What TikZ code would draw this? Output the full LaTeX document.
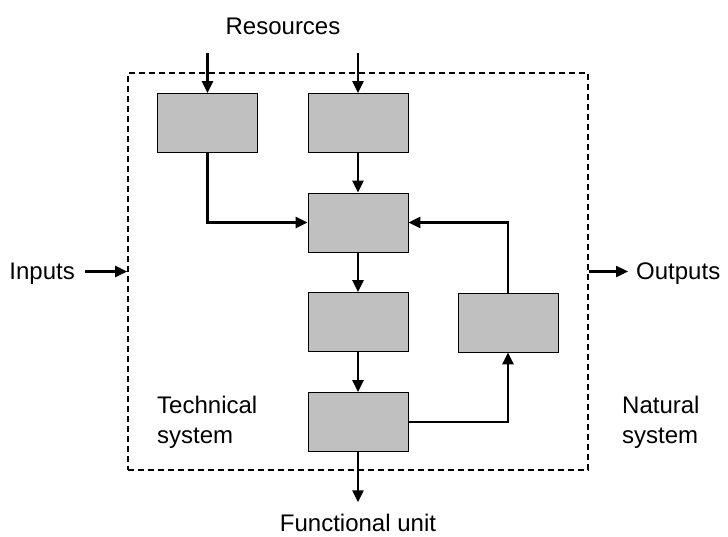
\documentclass[tikz,border=0pt]{standalone}
\usepackage{fontspec}
\setmainfont{Liberation Sans}
\usepackage{tikz}
\usetikzlibrary{arrows.meta}
\definecolor{boxgray}{RGB}{192,192,192}

\begin{document}
\begin{tikzpicture}[x=1pt,y=-1pt,
  unit/.style={draw,line width=0.9pt,fill=boxgray,minimum width=100pt,minimum height=59pt,inner sep=0pt},
  flow/.style={line width=2.4pt,-{Triangle[length=12pt,width=11pt]}},
  lbl/.style={font=\fontsize{24}{30}\selectfont,inner sep=0pt}]
\useasboundingbox (0,0) rectangle (728,536);
% system boundary
\node[draw,line width=1.6pt,dash pattern=on 6pt off 4pt,minimum width=460pt,minimum height=397pt,inner sep=0pt] (sys) at (358,271.5) {};
% process units
\node[unit] (a) at (207.5,123) {};
\node[unit] (b) at (358,123) {};
\node[unit] (c) at (358,222.5) {};
\node[unit] (d) at (358,322) {};
\node[unit] (e) at (508,322.5) {};
\node[unit] (f) at (358,422) {};
% labels
\node[lbl,anchor=base] (res) at (283,34) {Resources};
\node[lbl,anchor=base east] (in) at (75,279) {Inputs};
\node[lbl,anchor=base west] (out) at (636,279) {Outputs};
\node[lbl,anchor=base] (fu) at (358,531) {Functional unit};
\node[lbl,anchor=base west,align=left] (tech) at (157,443) {Technical\\system};
\node[lbl,anchor=base west,align=left] (nat) at (622,443) {Natural\\system};
\coordinate (r1) at (207.5,53);
\coordinate (r2) at (358,53);
% flows
\draw[flow] (r1) -- (a);
\draw[flow] (r2) -- (b);
\draw[flow] (a.south) |- (c.west);
\draw[flow] (b) -- (c);
\draw[flow] (c) -- (d);
\draw[flow] (d) -- (f);
\draw[flow] (f.east) -| (e.south);
\draw[flow] (e.north) |- (c.east);
\draw[flow] (f.south) -- ([yshift=11pt]fu.north);
\draw[flow] ([xshift=10pt]in.east |- sys.west) -- (sys.west);
\draw[flow] (sys.east) -- ([xshift=-8pt]out.west |- sys.east);
\end{tikzpicture}
\end{document}
